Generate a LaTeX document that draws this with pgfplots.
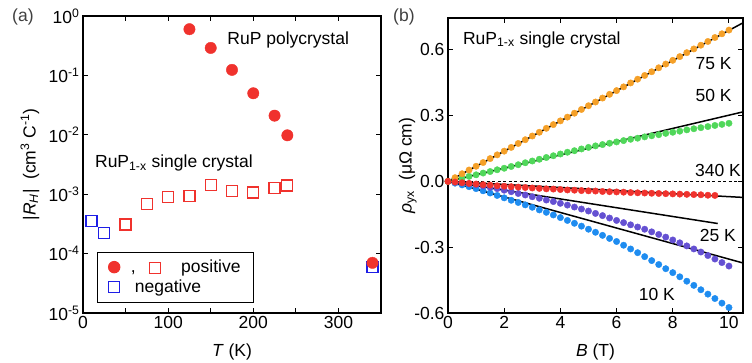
\documentclass[border=0pt]{standalone}
\usepackage{pgfplots}
\pgfplotsset{compat=1.18}
\usepackage{pgfplotstable}
\usepackage{fontspec}
\setmainfont{Liberation Sans}
\definecolor{cred}{RGB}{240,50,45}
\definecolor{cblueA}{RGB}{30,30,230}
\definecolor{corange}{RGB}{245,160,40}
\definecolor{cgreen}{RGB}{80,215,90}
\definecolor{cpurple}{RGB}{100,80,210}
\definecolor{cblue}{RGB}{30,140,240}
\newcommand{\fs}{\fontsize{17.5}{20}\selectfont}
\newcommand{\redsq}{{\setlength{\fboxsep}{0pt}\setlength{\fboxrule}{1.2pt}\raisebox{-0.5pt}{\fcolorbox{cred}{white}{\rule{0pt}{10pt}\hspace{10pt}}}}}

\pgfplotstableread{
B o g r p b
0    0     0     0      0      0
0.25 0.017 0.008 -0.003 -0.003 -0.008
0.5  0.035 0.015 -0.006 -0.007 -0.016
0.75 0.052 0.023 -0.009 -0.011 -0.024
1    0.069 0.030 -0.012 -0.015 -0.033
1.25 0.086 0.038 -0.015 -0.021 -0.043
1.5  0.104 0.045 -0.017 -0.027 -0.053
1.75 0.121 0.053 -0.020 -0.033 -0.064
2    0.138 0.060 -0.022 -0.040 -0.075
2.25 0.155 0.068 -0.024 -0.047 -0.086
2.5  0.173 0.076 -0.026 -0.055 -0.096
2.75 0.190 0.085 -0.028 -0.062 -0.107
3    0.207 0.093 -0.030 -0.070 -0.118
3.25 0.224 0.101 -0.032 -0.077 -0.130
3.5  0.242 0.109 -0.034 -0.085 -0.141
3.75 0.259 0.117 -0.035 -0.092 -0.153
4    0.276 0.125 -0.037 -0.100 -0.165
4.25 0.293 0.133 -0.039 -0.108 -0.178
4.5  0.311 0.140 -0.040 -0.117 -0.191
4.75 0.328 0.148 -0.042 -0.126 -0.204
5    0.345 0.155 -0.043 -0.135 -0.218
5.25 0.362 0.162 -0.044 -0.146 -0.232
5.5  0.380 0.168 -0.046 -0.156 -0.246
5.75 0.397 0.174 -0.047 -0.167 -0.260
6    0.414 0.180 -0.048 -0.178 -0.274
6.25 0.431 0.186 -0.049 -0.188 -0.291
6.5  0.449 0.192 -0.051 -0.198 -0.308
6.75 0.466 0.197 -0.052 -0.208 -0.325
7    0.483 0.203 -0.053 -0.218 -0.343
7.25 0.500 0.208 -0.054 -0.230 -0.361
7.5  0.518 0.213 -0.055 -0.242 -0.379
7.75 0.535 0.219 -0.056 -0.254 -0.398
8    0.552 0.224 -0.057 -0.267 -0.416
8.25 0.569 0.229 -0.058 -0.280 -0.435
8.5  0.587 0.235 -0.059 -0.294 -0.455
8.75 0.604 0.240 -0.060 -0.308 -0.474
9    0.621 0.245 -0.061 -0.322 -0.494
9.25 0.638 0.250 -0.063 -0.338 -0.514
9.5  0.656 0.255 -0.064 -0.354 -0.534
9.75 0.673 0.260 nan   -0.370 -0.555
10   0.690 0.265 nan   -0.386 -0.575
}\tabB

\pgfplotsset{myax/.style={
  scale only axis, anchor=south west,
  axis line style={line width=1.2pt},
  tick align=inside, major tick length=5pt, minor tick length=5pt,
  tick style={black, line width=1pt},
  every tick label/.append style={font=\fs},
  label style={font=\fs},
}}

\begin{document}
\begin{tikzpicture}[font=\fs]
\useasboundingbox (0,0) rectangle (752pt,362pt);
\node[anchor=base west, inner sep=0, text=black!75] at (12pt,340pt) {(a)};
\node[anchor=base west, inner sep=0, text=black!75] at (393pt,340pt) {(b)};

\begin{axis}[myax, at={(83pt,49pt)}, width=298pt, height=297pt,
  xmin=0, xmax=350, ymode=log, ymin=1e-5, ymax=1,
  xtick={0,100,200,300}, xticklabels={0,100,200,300},
  minor xtick={50,150,250},
  ytick={1e-5,1e-4,0.001,0.01,0.1,1},
  yticklabels={10\textsuperscript{-5},10\textsuperscript{-4},10\textsuperscript{-3},10\textsuperscript{-2},10\textsuperscript{-1},10\textsuperscript{0}},
  yminorticks=false,
  xlabel={\textit{T} (K)},
  xlabel style={at={(axis description cs:0.5,-0.131)}, anchor=center},
  ylabel={|\textit{R}\textsubscript{\textit{H}}|\ \ (cm\textsuperscript{3} C\textsuperscript{-1})},
  ylabel style={at={(axis description cs:-0.178,0.5)}, anchor=center},
  legend style={at={(rel axis cs:0.047,0.034)}, anchor=south west, draw=black, line width=1pt, font=\fs, inner xsep=11pt, inner ysep=6pt, row sep=2pt},
  legend cell align=left,
]
\addlegendimage{only marks, mark=*, mark size=5.7pt, color=cred}
\addlegendentry{\hspace{9pt},\hspace{13pt}\redsq\hspace{20pt}positive}
\addlegendimage{only marks, mark=square, mark size=5.5pt, line width=1.2pt, color=cblueA}
\addlegendentry{\hspace{13pt}negative}

\addplot[forget plot, only marks, mark=square, mark size=5.5pt, line width=1.2pt, color=cblueA]
  coordinates {(10,3.5e-4) (25,2.2e-4) (340,6e-5)};
\addplot[forget plot, only marks, mark=square, mark size=5.5pt, line width=1.2pt, color=cred]
  coordinates {(50,3.1e-4) (75,6.9e-4) (100,9.1e-4) (125,9.4e-4) (150,1.45e-3) (175,1.15e-3) (200,1.07e-3) (225,1.28e-3) (240,1.4e-3)};
\addplot[forget plot, only marks, mark=*, mark size=5.7pt, color=cred]
  coordinates {(125,0.6) (150,0.29) (175,0.124) (200,0.05) (225,0.021) (240,0.0098) (340,7e-5)};

\node[anchor=base west, inner sep=0] at (axis cs:169.4,0.326) {RuP polycrystal};
\node[anchor=base west, inner sep=0] at (axis cs:14,2.79e-3) {RuP\textsubscript{1-x} single crystal};
\end{axis}

\begin{axis}[myax, at={(448pt,49pt)}, width=295pt, height=295pt,
  xmin=0, xmax=10.5, ymin=-0.6, ymax=0.745,
  xtick={0,2,4,6,8,10}, xticklabels={0,2,4,6,8,10},
  ytick={-0.6,-0.3,0,0.3,0.6}, yticklabels={-0.6,-0.3,0.0,0.3,0.6},
  xlabel={\textit{B} (T)},
  xlabel style={at={(axis description cs:0.5,-0.132)}, anchor=center},
  ylabel={\textit{ρ}\textsubscript{yx}\ \ (μΩ cm)},
  ylabel style={at={(axis description cs:-0.136,0.5)}, anchor=center},
]
\addplot[black, line width=1pt, dash pattern=on 3pt off 2.5pt] coordinates {(0,0) (10.5,0)};
\addplot[only marks, mark=*, mark size=3.2pt, color=cblue] table[x=B, y=b] {\tabB};
\addplot[only marks, mark=*, mark size=3.2pt, color=cpurple] table[x=B, y=p] {\tabB};
\addplot[only marks, mark=*, mark size=3.2pt, color=cgreen] table[x=B, y=g] {\tabB};
\addplot[only marks, mark=*, mark size=3.2pt, color=corange] table[x=B, y=o] {\tabB};
\addplot[only marks, mark=*, mark size=3.2pt, color=cred] table[x=B, y=r] {\tabB};
\addplot[black, line width=1.5pt] coordinates {(0,0) (10.5,0.723)};
\addplot[black, line width=1.5pt] coordinates {(0,0) (10.5,0.317)};
\addplot[black, line width=1.5pt] coordinates {(0,0) (10.5,-0.073)};
\addplot[black, line width=1.5pt] coordinates {(0,0) (9.6,-0.192)};
\addplot[black, line width=1.5pt] coordinates {(0,0) (10.5,-0.372)};

\node[anchor=base west, inner sep=0] at (axis cs:0.53,0.626) {RuP\textsubscript{1-x} single crystal};
\node[anchor=base east, inner sep=0] at (axis cs:10.1,0.509) {75 K};
\node[anchor=base east, inner sep=0] at (axis cs:10.1,0.364) {50 K};
\node[anchor=base east, inner sep=0] at (axis cs:10.43,0.023) {340 K};
\node[anchor=base east, inner sep=0] at (axis cs:10.25,-0.273) {25 K};
\node[anchor=base east, inner sep=0] at (axis cs:8.08,-0.541) {10 K};
\end{axis}
\end{tikzpicture}
\end{document}
